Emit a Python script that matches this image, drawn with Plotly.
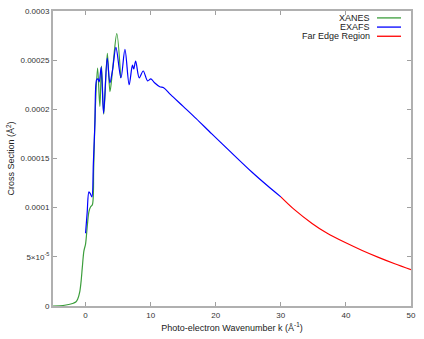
import plotly.graph_objects as go

# XANES (green)
xanes_k = [-5, -4, -3, -2, -1.5, -1.2, -0.9, -0.7, -0.5, -0.25, 0, 0.26, 0.52, 0.78,
           1.05, 1.25, 1.5, 1.85, 2.2, 2.45, 2.8, 3.35, 3.75, 4.15, 4.8, 5.4]
xanes_y = [0, 2e-7, 1e-6, 2.5e-6, 4e-6, 7e-6, 1.4e-5, 2.4e-5, 3.9e-5, 5.6e-5, 6.3e-5,
           8.1e-5, 9.6e-5, 1.01e-4, 1.03e-4, 1.4e-4, 2.0e-4, 2.42e-4, 2.03e-4, 2.44e-4,
           1.95e-4, 2.57e-4, 2.18e-4, 2.40e-4, 2.77e-4, 2.32e-4]

# EXAFS (blue)
exafs_k = [0, 0.25, 0.52, 0.75, 0.98, 1.2, 1.44, 1.7, 1.9, 2.1, 2.4, 2.77, 3.33, 3.74,
           4.15, 4.67, 5.44, 6.05, 6.7, 7.2, 7.4, 7.7, 8.25, 8.86, 9.53, 10.04, 10.6,
           11.4, 12.0, 13.07, 15, 17, 19.4, 22, 25.5, 28, 30]
exafs_y = [7.4e-5, 9.5e-5, 1.16e-4, 1.14e-4, 1.11e-4, 1.45e-4, 1.86e-4, 2.30e-4, 2.31e-4,
           2.28e-4, 2.43e-4, 1.96e-4, 2.52e-4, 2.27e-4, 2.40e-4, 2.63e-4, 2.32e-4,
           2.61e-4, 2.25e-4, 2.45e-4, 2.41e-4, 2.49e-4, 2.32e-4, 2.39e-4, 2.29e-4,
           2.31e-4, 2.27e-4, 2.23e-4, 2.22e-4, 2.15e-4, 2.03e-4, 1.905e-4, 1.75e-4,
           1.585e-4, 1.365e-4, 1.22e-4, 1.11e-4]

# Far edge region (red)
far_k = [30, 32, 34.8, 37, 39.9, 42.5, 45, 47.5, 50]
far_y = [1.11e-4, 9.85e-5, 8.4e-5, 7.45e-5, 6.45e-5, 5.65e-5, 4.95e-5, 4.3e-5, 3.7e-5]

x_ticks = [0, 10, 20, 30, 40, 50]
y_ticks = [0, 5e-5, 1e-4, 1.5e-4, 2e-4, 2.5e-4, 3e-4]
y_tick_text = ["0", "5×10<sup>-5</sup>", "0.0001", "0.00015", "0.0002", "0.00025", "0.0003"]

series_names = ["XANES", "EXAFS", "Far Edge Region"]
series_colors = ["#3c9e3c", "#0000ff", "#ff0000"]

fig = go.Figure()
for name, kk, yy, col in zip(series_names, [xanes_k, exafs_k, far_k],
                             [xanes_y, exafs_y, far_y], series_colors):
    fig.add_trace(go.Scatter(x=kk, y=yy, mode="lines", name=name,
                             line=dict(color=col, width=1.2, shape="spline", smoothing=0.9),
                             showlegend=False))

axis_common = dict(showline=True, linecolor="#b0b0b0", linewidth=2, mirror="ticks",
                   ticks="inside", ticklen=4, tickcolor="#a0a0a0", showgrid=False,
                   zeroline=False, tickfont=dict(size=8, color="#333333"))

fig.update_xaxes(range=[-5, 50], tickvals=x_ticks,
                 title=dict(text="Photo-electron Wavenumber k (Å<sup>-1</sup>)",
                            font=dict(size=9, color="#222222"), standoff=6),
                 **axis_common)
fig.update_yaxes(range=[0, 3e-4], tickvals=y_ticks, ticktext=y_tick_text,
                 title=dict(text="Cross Section (Å<sup>2</sup>)",
                            font=dict(size=9, color="#222222"), standoff=4),
                 **axis_common)

# legend drawn gnuplot-style: text right-aligned, sample line on the right
annotations = []
shapes = []
for i, (name, col) in enumerate(zip(series_names, series_colors)):
    ypix = 14 + i * 9.3
    yp = 1 - (ypix - 7) / 299
    annotations.append(dict(text=name, x=(372 - 53) / 358, xref="paper", y=yp, yref="paper",
                            showarrow=False, xanchor="right", yanchor="middle",
                            font=dict(size=9, color="#222222")))
    shapes.append(dict(type="line", xref="paper", yref="paper",
                       x0=(377 - 53) / 358, x1=(401 - 53) / 358, y0=yp, y1=yp,
                       line=dict(color=col, width=1.3)))

fig.update_layout(width=424, height=339, margin=dict(l=53, r=13, t=7, b=33),
                  paper_bgcolor="white", plot_bgcolor="white",
                  font=dict(family="Liberation Sans, Arial, sans-serif", size=9),
                  annotations=annotations, shapes=shapes)

fig.write_html("out.html", config={"displayModeBar": False},
               post_script="document.body.style.margin='0';document.body.style.overflow='hidden';")
